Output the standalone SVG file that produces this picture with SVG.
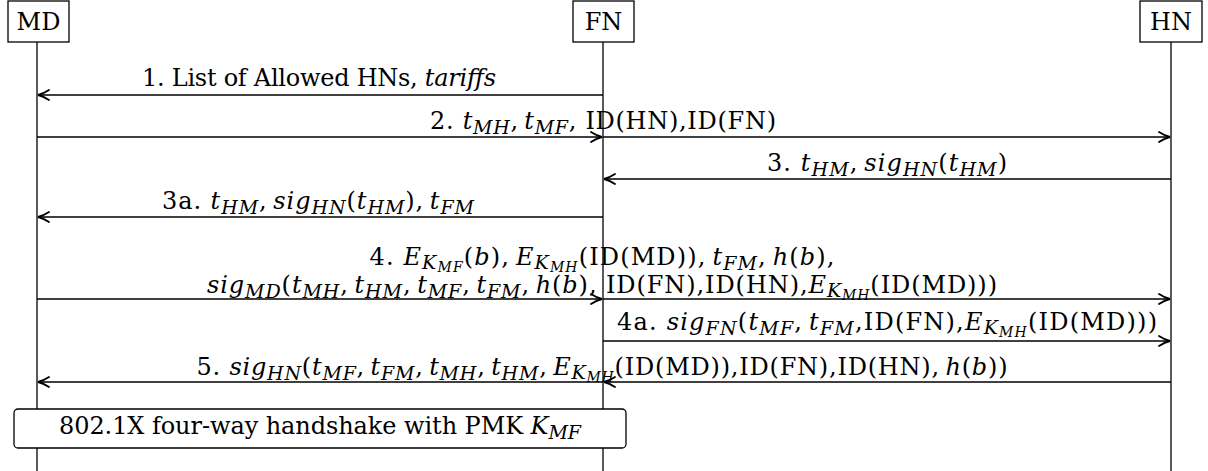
<svg xmlns="http://www.w3.org/2000/svg" width="1208" height="471" viewBox="0 0 1208 471">
  <style>
    .box { fill: #fff; stroke: #000; stroke-width: 1.3; }
    .life { stroke: #000; stroke-width: 1.3; fill: none; }
    .msg { stroke: #000; stroke-width: 1.6; fill: none; marker-end: url(#ah); }
    .t { font-family: 'DejaVu Serif', 'Liberation Serif', 'Noto Serif', serif; font-size: 24px; fill: #000; text-anchor: middle; }
    .i { font-style: italic; }
    .s { font-size: 19px; font-style: italic; }
    .ss { font-size: 14px; font-style: italic; }
  </style>
  <defs>
    <!-- curved "to"-style arrow tip -->
    <marker id="ah" markerUnits="userSpaceOnUse" viewBox="-13 -7 15 14" refX="0" refY="0" markerWidth="15" markerHeight="14" orient="auto" overflow="visible">
      <path d="M-11,-5 C-7,-2.4 -2.8,-0.6 0,0 C-2.8,0.6 -7,2.4 -11,5" fill="none" stroke="#000" stroke-width="1.8" stroke-linecap="round"/>
    </marker>
  </defs>

  <!-- participants -->
  <g id="md">
    <line class="life" x1="37" y1="42" x2="37" y2="471"/>
    <rect class="box" x="8" y="1" width="61" height="41"/>
    <text class="t" x="38.5" y="30">MD</text>
  </g>
  <g id="fn">
    <line class="life" x1="603" y1="42" x2="603" y2="471"/>
    <rect class="box" x="573" y="1" width="61" height="41"/>
    <text class="t" x="603.5" y="30">FN</text>
  </g>
  <g id="hn">
    <line class="life" x1="1171" y1="42" x2="1171" y2="471"/>
    <rect class="box" x="1140" y="1" width="62" height="41"/>
    <text class="t" x="1171" y="30">HN</text>
  </g>

  <!-- messages -->
  <g id="connectors">
    <line class="msg" x1="603" y1="95" x2="38" y2="95"/>
    <line class="msg" x1="37" y1="137" x2="602" y2="137"/>
    <line class="msg" x1="603" y1="137" x2="1170" y2="137"/>
    <line class="msg" x1="1171" y1="179" x2="604" y2="179"/>
    <line class="msg" x1="603" y1="217" x2="38" y2="217"/>
    <line class="msg" x1="37" y1="299" x2="602" y2="299"/>
    <line class="msg" x1="603" y1="299" x2="1170" y2="299"/>
    <line class="msg" x1="603" y1="341" x2="1170" y2="341"/>
    <line class="msg" x1="1171" y1="382" x2="604" y2="382"/>
    <line class="msg" x1="603" y1="382" x2="38" y2="382"/>
  </g>

  <g id="labels">
    <text class="t" x="319" y="86" textLength="354" lengthAdjust="spacing">1. List of Allowed HNs, <tspan class="i">tariffs</tspan></text>

    <text class="t" x="603" y="129" textLength="346" lengthAdjust="spacing">2. <tspan class="i">t</tspan><tspan class="s" dy="5">MH</tspan><tspan dy="-5">,&#8201;</tspan><tspan class="i">t</tspan><tspan class="s" dy="5">MF</tspan><tspan dy="-5">, ID(HN),ID(FN)</tspan></text>

    <text class="t" x="887" y="171" textLength="240" lengthAdjust="spacing">3. <tspan class="i">t</tspan><tspan class="s" dy="5">HM</tspan><tspan dy="-5">,&#8201;</tspan><tspan class="i">sig</tspan><tspan class="s" dy="5">HN</tspan><tspan dy="-5">(</tspan><tspan class="i">t</tspan><tspan class="s" dy="5">HM</tspan><tspan dy="-5">)</tspan></text>

    <text class="t" x="318" y="209" textLength="312" lengthAdjust="spacing">3a. <tspan class="i">t</tspan><tspan class="s" dy="5">HM</tspan><tspan dy="-5">,&#8201;</tspan><tspan class="i">sig</tspan><tspan class="s" dy="5">HN</tspan><tspan dy="-5">(</tspan><tspan class="i">t</tspan><tspan class="s" dy="5">HM</tspan><tspan dy="-5">),&#8201;</tspan><tspan class="i">t</tspan><tspan class="s" dy="5">FM</tspan></text>

    <text class="t" x="602" y="265" textLength="465" lengthAdjust="spacing">4. <tspan class="i">E</tspan><tspan class="s" dy="4">K</tspan><tspan class="ss" dy="3">MF</tspan><tspan dy="-7">(</tspan><tspan class="i">b</tspan><tspan>),&#8201;</tspan><tspan class="i">E</tspan><tspan class="s" dy="4">K</tspan><tspan class="ss" dy="3">MH</tspan><tspan dy="-7">(ID(MD)),&#8201;</tspan><tspan class="i">t</tspan><tspan class="s" dy="5">FM</tspan><tspan dy="-5">,&#8201;</tspan><tspan class="i">h</tspan><tspan>(</tspan><tspan class="i">b</tspan><tspan>),</tspan></text>

    <text class="t" x="602" y="293" textLength="790" lengthAdjust="spacing"><tspan class="i">sig</tspan><tspan class="s" dy="5">MD</tspan><tspan dy="-5">(</tspan><tspan class="i">t</tspan><tspan class="s" dy="5">MH</tspan><tspan dy="-5">,&#8201;</tspan><tspan class="i">t</tspan><tspan class="s" dy="5">HM</tspan><tspan dy="-5">,&#8201;</tspan><tspan class="i">t</tspan><tspan class="s" dy="5">MF</tspan><tspan dy="-5">,&#8201;</tspan><tspan class="i">t</tspan><tspan class="s" dy="5">FM</tspan><tspan dy="-5">,&#8201;</tspan><tspan class="i">h</tspan><tspan>(</tspan><tspan class="i">b</tspan><tspan>), ID(FN),ID(HN),</tspan><tspan class="i">E</tspan><tspan class="s" dy="4">K</tspan><tspan class="ss" dy="3">MH</tspan><tspan dy="-7">(ID(MD)))</tspan></text>

    <text class="t" x="887" y="330" textLength="540" lengthAdjust="spacing">4a. <tspan class="i">sig</tspan><tspan class="s" dy="5">FN</tspan><tspan dy="-5">(</tspan><tspan class="i">t</tspan><tspan class="s" dy="5">MF</tspan><tspan dy="-5">,&#8201;</tspan><tspan class="i">t</tspan><tspan class="s" dy="5">FM</tspan><tspan dy="-5">,ID(FN),</tspan><tspan class="i">E</tspan><tspan class="s" dy="4">K</tspan><tspan class="ss" dy="3">MH</tspan><tspan dy="-7">(ID(MD)))</tspan></text>

    <text class="t" x="602" y="375" textLength="811" lengthAdjust="spacing">5. <tspan class="i">sig</tspan><tspan class="s" dy="5">HN</tspan><tspan dy="-5">(</tspan><tspan class="i">t</tspan><tspan class="s" dy="5">MF</tspan><tspan dy="-5">,&#8201;</tspan><tspan class="i">t</tspan><tspan class="s" dy="5">FM</tspan><tspan dy="-5">,&#8201;</tspan><tspan class="i">t</tspan><tspan class="s" dy="5">MH</tspan><tspan dy="-5">,&#8201;</tspan><tspan class="i">t</tspan><tspan class="s" dy="5">HM</tspan><tspan dy="-5">,&#8201;</tspan><tspan class="i">E</tspan><tspan class="s" dy="4">K</tspan><tspan class="ss" dy="3">MH</tspan><tspan dy="-7">(ID(MD)),ID(FN),ID(HN),&#8201;</tspan><tspan class="i">h</tspan><tspan>(</tspan><tspan class="i">b</tspan><tspan>))</tspan></text>
  </g>

  <!-- handshake step spanning MD and FN -->
  <g id="handshake">
    <rect class="box" x="14" y="409" width="612" height="39" rx="4" ry="4"/>
    <text class="t" x="320" y="434" textLength="522" lengthAdjust="spacing">802.1X four-way handshake with PMK <tspan class="i">K</tspan><tspan class="s" dy="5">MF</tspan></text>
  </g>
</svg>
